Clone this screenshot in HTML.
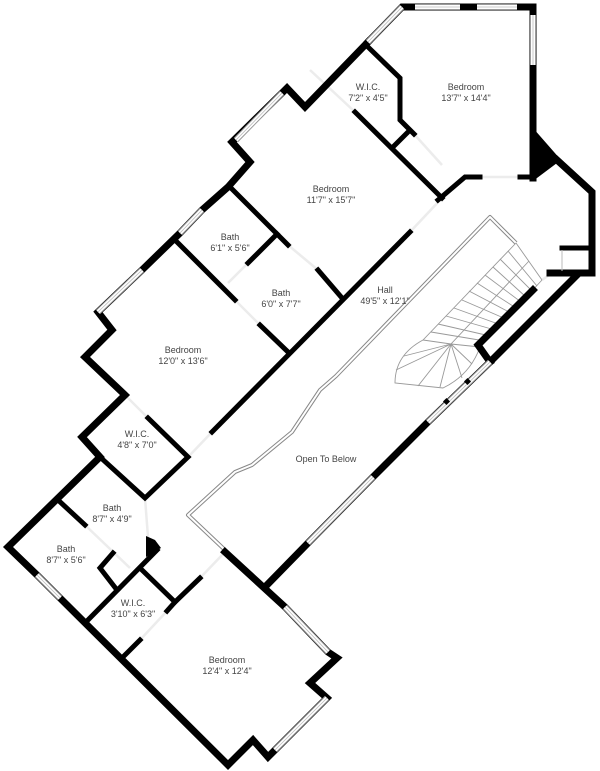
<!DOCTYPE html>
<html><head><meta charset="utf-8"><style>
html,body{margin:0;padding:0;background:#fff}
svg{display:block}
text{font-family:"Liberation Sans",sans-serif;font-size:9px;fill:#444;text-anchor:middle}
.w{fill:none;stroke:#000;stroke-width:7;stroke-linejoin:miter;stroke-linecap:square}
.i{fill:none;stroke:#000;stroke-width:5;stroke-linejoin:miter;stroke-linecap:square}
.wo{stroke:#999;stroke-width:6;fill:none}
.wi{stroke:#fff;stroke-width:4;fill:none}
.wc{stroke:#bbb;stroke-width:0.8;fill:none}
.d{stroke:#ececec;stroke-width:2.5;fill:none}
.ro{stroke:#888;stroke-width:4;fill:none;stroke-linejoin:round}
.ri{stroke:#fff;stroke-width:2;fill:none;stroke-linejoin:round}
.s{stroke:#999;stroke-width:0.9;fill:none}
</style></head><body>
<svg width="600" height="771" viewBox="0 0 600 771" xmlns="http://www.w3.org/2000/svg">
<g class="d">
<line x1="442" y1="198" x2="410" y2="232"/><line x1="480" y1="177" x2="520" y2="177"/>
<line x1="414" y1="134" x2="442" y2="165"/><line x1="355" y1="112" x2="310" y2="70"/>
<line x1="288" y1="245" x2="318" y2="270"/><line x1="248" y1="263" x2="228" y2="283"/>
<line x1="235" y1="300" x2="260" y2="325"/><line x1="125" y1="395" x2="148" y2="418"/>
<line x1="212" y1="432" x2="190" y2="455"/><line x1="85" y1="525" x2="130" y2="568"/>
<line x1="200" y1="578" x2="225" y2="552"/><line x1="167" y1="611" x2="140" y2="640"/>
<line x1="145" y1="498" x2="148" y2="537"/><line x1="542" y1="280" x2="552" y2="273"/>
</g>
<polyline class="ro" points="225,550 188,515 235,472 252,465 292,432 320,390 336,376 490,217 516,243"/>
<polyline class="ri" points="225,550 188,515 235,472 252,465 292,432 320,390 336,376 490,217 516,243"/>
<g class="s">
<path d="M516,243 L542,280 M516,243 L423,340 Q395,355 395,383 L443,388 Q470,375 480,347 L542,280"/>
<path d="M508,251 L537,286 M500,259 L532,291 M493,267 L526,297 M485,275 L521,302 M477,283 L516,308 M469,291 L511,313 M462,300 L506,319 M454,308 L501,325 M446,316 L495,330 M438,324 L490,336 M431,332 L485,341"/>
<path d="M529,261 L451,344 L440,387 M423,340 L451,344 M451,344 L480,347 M451,344 L404,356 M451,344 L396,370 M451,344 L418,386 M451,344 L462,378 M451,344 L472,364"/>
</g>
<polyline class="w" points="368,42 402,7 533,7 533,178"/>
<polygon points="533,128 561,160 533,181" fill="#000"/>
<polyline class="w" points="557,160 592,192 592,273 550,273"/>
<polyline class="i" points="562,248 592,248"/>
<polyline class="w" points="577,275 490,362 428,422 373,477 308,543 265,587"/>
<polyline class="w" points="225,552 285,607 328,652 337,658 310,683 327,698 275,750 268,757 253,740 228,765 60,598 37,575 8,547 100,457 82,437 125,395 85,357 112,330 98,312 142,270 180,233 202,210 228,187 250,162 232,142 282,93 287,88 305,107 368,42"/>
<polyline class="w" points="533,290 478,345 490,362"/>
<g class="i">
<polyline points="368,47 400,78 400,120 414,134"/>
<polyline points="408,132 392,148"/>
<polyline points="355,112 442,198"/>
<polyline points="438,200 465,177 480,177"/>
<polyline points="520,177 533,177"/>
<polyline points="410,232 212,432"/>
<polyline points="318,270 342,298"/>
<polyline points="229,186 288,245"/>
<polyline points="277,234 248,263"/>
<polyline points="175,240 235,300"/>
<polyline points="260,325 288,352"/>
<polyline points="148,418 188,457 145,498 100,457"/>
<polyline points="58,500 85,525"/>
<polyline points="157,550 88,620"/>
<polyline points="113,553 100,568 117,590"/>
<polyline points="142,570 175,602 200,578"/>
<polyline points="175,602 167,611"/>
<polyline points="140,640 123,657"/>
</g>
<polygon points="146,536 146,557 161,548 155,540" fill="#000"/>
<g>
<path class="wo" d="M402,7 L368,42 M415,7 L460,7 M477,7 L517,7 M533,15 L533,65 M490,362 L428,422 M373,477 L308,543 M285,607 L328,652 M327,698 L275,750 M60,598 L37,575 M98,312 L142,270 M180,233 L202,210 M236,140 L282,93"/>
<path class="wi" d="M402,7 L368,42 M415,7 L460,7 M477,7 L517,7 M533,15 L533,65 M490,362 L428,422 M373,477 L308,543 M285,607 L328,652 M327,698 L275,750 M60,598 L37,575 M98,312 L142,270 M180,233 L202,210 M236,140 L282,93"/>
<path class="wc" d="M402,7 L368,42 M415,7 L460,7 M477,7 L517,7 M533,15 L533,65 M490,362 L428,422 M373,477 L308,543 M285,607 L328,652 M327,698 L275,750 M60,598 L37,575 M98,312 L142,270 M180,233 L202,210 M236,140 L282,93"/>
<line x1="562" y1="250" x2="562" y2="271" stroke="#bbb" stroke-width="1"/>
<rect x="444" y="399" width="5" height="5" fill="#000" transform="rotate(45 446.5 401.5)"/>
<rect x="465" y="379" width="5" height="5" fill="#000" transform="rotate(45 467.5 381.5)"/>
</g>
<text x="466" y="90">Bedroom</text><text x="466" y="101">13'7" x 14'4"</text>
<text x="368" y="90">W.I.C.</text><text x="368" y="101">7'2" x 4'5"</text>
<text x="331" y="192">Bedroom</text><text x="331" y="203">11'7" x 15'7"</text>
<text x="230" y="240">Bath</text><text x="230" y="251">6'1" x 5'6"</text>
<text x="281" y="296">Bath</text><text x="281" y="307">6'0" x 7'7"</text>
<text x="385" y="293">Hall</text><text x="385" y="304">49'5" x 12'1"</text>
<text x="183" y="353">Bedroom</text><text x="183" y="364">12'0" x 13'6"</text>
<text x="137" y="437">W.I.C.</text><text x="137" y="448">4'8" x 7'0"</text>
<text x="326" y="462">Open To Below</text>
<text x="112" y="511">Bath</text><text x="112" y="522">8'7" x 4'9"</text>
<text x="66" y="552">Bath</text><text x="66" y="563">8'7" x 5'6"</text>
<text x="133" y="606">W.I.C.</text><text x="133" y="617">3'10" x 6'3"</text>
<text x="227" y="663">Bedroom</text><text x="227" y="674">12'4" x 12'4"</text>
</svg>
</body></html>
